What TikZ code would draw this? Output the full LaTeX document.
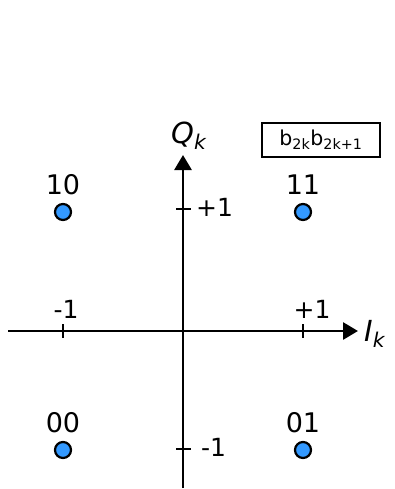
\documentclass[tikz,border=0pt]{standalone}
\usepackage{fontspec}
\setmainfont{DejaVu Sans}
\usetikzlibrary{arrows.meta,positioning}
\definecolor{symblue}{RGB}{51,153,255}
\tikzset{
  axisline/.style={line width=2.8pt, -{Triangle[length=15pt,width=17pt]}},
  tickline/.style={line width=2.5pt},
  symbol/.style={circle, draw=black, fill=symblue, line width=2.2pt,
                 minimum size=16pt, inner sep=0pt},
  bitlabel/.style={font=\fontsize{27}{32}\selectfont, inner sep=0pt},
  ticklabel/.style={font=\fontsize{25}{30}\selectfont, inner sep=0pt},
  axislabel/.style={font=\fontsize{29}{34}\selectfont\itshape, inner sep=0pt},
  keybox/.style={draw=black, line width=2pt, minimum width=118pt,
                 minimum height=34pt, inner sep=0pt, font=\fontsize{20.5}{24}\selectfont},
}
\begin{document}
\begin{tikzpicture}[x=1pt, y=-1pt]
  \useasboundingbox (0,0) rectangle (395,489);
  % axes
  \coordinate (ileft) at (8,331);
  \coordinate (iright) at (358,331);
  \coordinate (qbot) at (183,488);
  \coordinate (qtop) at (183,155);
  \draw[axisline] (ileft) -- (iright);
  \draw[axisline] (qbot) -- (qtop);
  \node[axislabel, anchor=base west] (ilab) at (364,341) {I\textsubscript{k}};
  \node[axislabel, anchor=base west] (qlab) at (171,143) {Q\textsubscript{k}};
  % ticks
  \coordinate (tl1) at (63,324);  \coordinate (tl2) at (63,338);
  \coordinate (tr1) at (303,324); \coordinate (tr2) at (303,338);
  \coordinate (tt1) at (176,209); \coordinate (tt2) at (191,209);
  \coordinate (tb1) at (176,449); \coordinate (tb2) at (191,449);
  \draw[tickline] (tl1) -- (tl2);
  \draw[tickline] (tr1) -- (tr2);
  \draw[tickline] (tt1) -- (tt2);
  \draw[tickline] (tb1) -- (tb2);
  \node[ticklabel, anchor=base] (mleft) at (66,318) {-1};
  \node[ticklabel, anchor=base] (pright) at (312,318) {+1};
  \node[ticklabel, anchor=base west] (ptop) at (196,216) {+1};
  \node[ticklabel, anchor=base west] (mbot) at (201,456) {-1};
  % symbols
  \node[symbol] (pt10) at (63,212) {};
  \node[symbol] (pt11) at (303,212) {};
  \node[symbol] (pt00) at (63,450) {};
  \node[symbol] (pt01) at (303,450) {};
  \node[bitlabel, anchor=base] (lab10) at (63,194) {10};
  \node[bitlabel, anchor=base] (lab11) at (303,194) {11};
  \node[bitlabel, anchor=base] (lab00) at (63,432) {00};
  \node[bitlabel, anchor=base] (lab01) at (303,432) {01};
  % key
  \node[keybox] (key) at (321,140) {b\textsubscript{2k}b\textsubscript{2k+1}};
\end{tikzpicture}
\end{document}
